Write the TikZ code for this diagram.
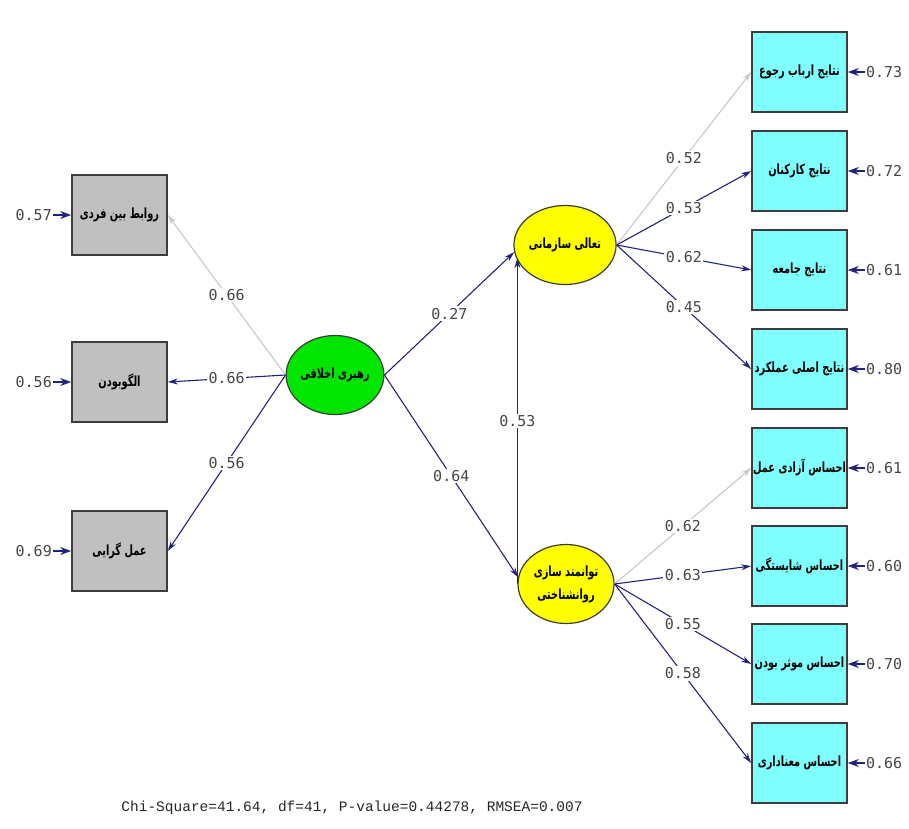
\documentclass[tikz,border=0pt]{standalone}
\usepackage{fontspec}
\usetikzlibrary{shapes.geometric,arrows.meta}
\TeXXeTstate=1
\newfontfamily\fa[Script=Arabic]{DejaVu Sans}
\newfontfamily\numfont{DejaVu Sans Mono}
\newfontfamily\fitfont{Liberation Mono}
\definecolor{pathblue}{RGB}{35,35,125}
\definecolor{refgray}{RGB}{200,200,200}
\definecolor{boxgray}{RGB}{192,192,192}
\definecolor{boxcyan}{RGB}{128,255,255}
\definecolor{edgecol}{RGB}{60,60,60}
\definecolor{latgreen}{RGB}{0,230,0}
\definecolor{latyellow}{RGB}{255,255,0}
\definecolor{numgray}{RGB}{70,70,70}
% condensed bold Persian label
\newcommand\fatext[1]{\scalebox{0.7}[1]{\fa\bfseries\beginR #1\endR}}
\tikzset{
  obsbox/.style={rectangle, draw=edgecol, line width=1.6pt, minimum width=95pt,
    minimum height=80pt, inner sep=0pt, text=black,
    font=\fontsize{14}{16}\selectfont},
  graybox/.style={obsbox, fill=boxgray},
  cyanbox/.style={obsbox, fill=boxcyan},
  latent/.style={ellipse, draw=edgecol, line width=1.2pt, minimum width=96pt,
    minimum height=79pt, inner sep=0pt, text=black, align=center,
    font=\fontsize{14}{23}\selectfont},
  pathline/.style={draw=pathblue, line width=1.1pt, -{Stealth[length=10pt,width=6pt]}},
  refline/.style={pathline, draw=refgray},
  coef/.style={fill=white, inner sep=1.5pt, text=numgray,
    font=\numfont\fontsize{15}{15}\selectfont},
  errlab/.style={inner sep=1pt, text=numgray, font=\numfont\fontsize{15}{15}\selectfont},
  errarrow/.style={draw=pathblue, line width=1.6pt, -{Stealth[length=11pt,width=8pt]}},
}
\begin{document}
\begin{tikzpicture}[x=1pt,y=-1pt]
\useasboundingbox (0,0) rectangle (909,828);

% observed variables of the exogenous construct
\node[graybox] (rb) at (119.5,215) {\fatext{روابط بین فردی}};
\node[graybox] (ag) at (119.5,382) {\fatext{الگوبودن}};
\node[graybox] (ak) at (119.5,551) {\fatext{عمل گرایی}};

% latent variables
\node[latent, fill=latgreen] (ge) at (335,375) {\fatext{رهبری اخلاقی}};
\node[latent, fill=latyellow] (te) at (565,245) {\fatext{تعالی سازمانی}};
\node[latent, fill=latyellow] (be) at (566,584) {\fatext{توانمند سازی}\\\fatext{روانشناختی}};

% observed variables of the endogenous constructs
\node[cyanbox] (o1) at (799.5,72)  {\fatext{نتایج ارباب رجوع}};
\node[cyanbox] (o2) at (799.5,171) {\fatext{نتایج کارکنان}};
\node[cyanbox] (o3) at (799.5,270) {\fatext{نتایج جامعه}};
\node[cyanbox] (o4) at (799.5,369) {\fatext{نتایج اصلی عملکرد}};
\node[cyanbox] (o5) at (799.5,468) {\fatext{احساس آزادی عمل}};
\node[cyanbox] (o6) at (799.5,566) {\fatext{احساس شایستگی}};
\node[cyanbox] (o7) at (799.5,664) {\fatext{احساس موثر بودن}};
\node[cyanbox] (o8) at (799.5,763) {\fatext{احساس معناداری}};

% error variances, left
\node[errlab, anchor=east] (e1) at (53,215) {0.57};
\node[errlab, anchor=east] (e2) at (53,382) {0.56};
\node[errlab, anchor=east] (e3) at (53,551) {0.69};
\draw[errarrow] (e1.east) -- (rb.west);
\draw[errarrow] (e2.east) -- (ag.west);
\draw[errarrow] (e3.east) -- (ak.west);

% error variances, right
\foreach \n/\v in {1/0.73,2/0.72,3/0.61,4/0.80,5/0.61,6/0.60,7/0.70,8/0.66}{
  \node[errlab, anchor=west] (f\n) at ([xshift=17pt]o\n.east) {\v};
  \draw[errarrow] (f\n.west) -- (o\n.east);
}

% loadings of the exogenous construct
\draw[refline] (ge.west) -- node[coef] {0.66} (rb.east);
\draw[pathline] (ge.west) -- node[coef] {0.66} (ag.east);
\draw[pathline] (ge.west) -- node[coef] {0.56} (ak.east);

% structural paths
\draw[pathline] (ge.east) -- node[coef] {0.27} (te.188);
\draw[pathline] (ge.east) -- node[coef] {0.64} (be.172);
\draw[pathline] (be.west) -- node[coef] {0.53} (be.west |- te.195);

% loadings of the endogenous constructs
\draw[refline]  (te.east) -- node[coef] {0.52} (o1.west);
\draw[pathline] (te.east) -- node[coef] {0.53} (o2.west);
\draw[pathline] (te.east) -- node[coef] {0.62} (o3.west);
\draw[pathline] (te.east) -- node[coef] {0.45} (o4.west);
\draw[refline]  (be.east) -- node[coef] {0.62} (o5.west);
\draw[pathline] (be.east) -- node[coef] {0.63} (o6.west);
\draw[pathline] (be.east) -- node[coef] {0.55} (o7.west);
\draw[pathline] (be.east) -- node[coef] {0.58} (o8.west);

% goodness of fit
\node[text=black!85, font=\fitfont\fontsize{14.5}{15}\selectfont] (fit) at (352,808)
  {Chi-Square=41.64, df=41, P-value=0.44278, RMSEA=0.007};
\end{tikzpicture}
\end{document}
